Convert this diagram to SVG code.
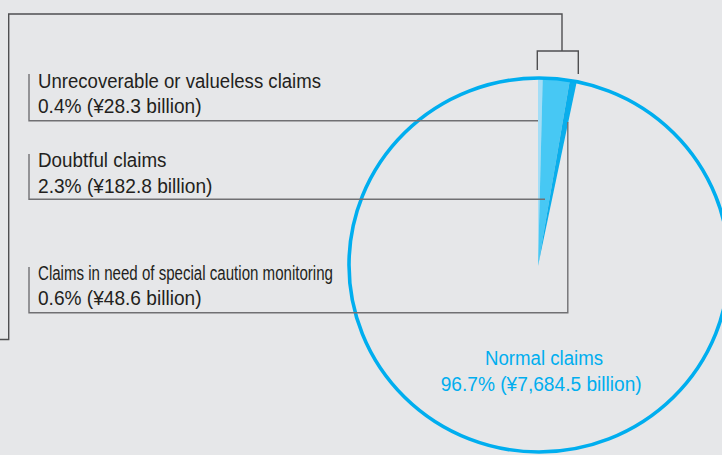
<svg xmlns="http://www.w3.org/2000/svg" width="722" height="455" viewBox="0 0 722 455">
  <style>
    .bg { fill: #e6e7e9; }
    .frame { fill: none; stroke: #4f4f51; stroke-width: 1.4; }
    .leader { fill: none; stroke: #707073; stroke-width: 1.4; }
    .label { font-family: "Liberation Sans", Arial, sans-serif; font-size: 20px; fill: #231f20; }
    .normal { font-family: "Liberation Sans", Arial, sans-serif; font-size: 20px; fill: #00aeef; }
    .ring { fill: none; stroke: #00aeef; stroke-width: 3.6; }
  </style>
  <rect class="bg" x="0" y="0" width="722" height="455"/>

  <!-- pie: normal claims ring with the small problem-claim slices at 12 o'clock -->
  <g id="pie">
    <path id="slice-unrecoverable" d="M538,266 L538,78 A188,188 0 0 1 542.72,78.06 Z" fill="#a3ddf6"/>
    <path id="slice-doubtful" d="M538,266 L542.72,78.06 A188,188 0 0 1 569.74,80.70 Z" fill="#47c8f4"/>
    <path id="slice-special" d="M538,266 L569.74,80.70 A188,188 0 0 1 576.70,82.03 Z" fill="#0aaeeb"/>
    <ellipse class="ring" cx="539" cy="265" rx="190" ry="187"/>
  </g>

  <!-- connectors -->
  <g id="connectors">
    <path class="frame" d="M0,339.5 H8.7 V14 H562 V51"/>
    <path class="frame" d="M537.3,70 V51 H578.3 V74"/>
    <path class="leader" d="M29,74 V120.7 H538"/>
    <path class="leader" d="M29,154 V199.3 H545"/>
    <path class="leader" d="M29,267 V312.7 H567.8 V122"/>
  </g>

  <g id="label-unrecoverable">
    <text class="label" x="38" y="87.5" textLength="283" lengthAdjust="spacingAndGlyphs">Unrecoverable or valueless claims</text>
    <text class="label" x="38" y="113.3" textLength="163.5" lengthAdjust="spacingAndGlyphs">0.4% (¥28.3 billion)</text>
  </g>

  <g id="label-doubtful">
    <text class="label" x="38" y="166.7" textLength="128.5" lengthAdjust="spacingAndGlyphs">Doubtful claims</text>
    <text class="label" x="38" y="192.7" textLength="174.5" lengthAdjust="spacingAndGlyphs">2.3% (¥182.8 billion)</text>
  </g>

  <g id="label-special">
    <text class="label" x="38" y="279.7" textLength="295" lengthAdjust="spacingAndGlyphs">Claims in need of special caution monitoring</text>
    <text class="label" x="38" y="305.3" textLength="163.5" lengthAdjust="spacingAndGlyphs">0.6% (¥48.6 billion)</text>
  </g>

  <g id="label-normal">
    <text class="normal" x="485" y="364.5" textLength="118" lengthAdjust="spacingAndGlyphs">Normal claims</text>
    <text class="normal" x="440.7" y="391" textLength="201" lengthAdjust="spacingAndGlyphs">96.7% (¥7,684.5 billion)</text>
  </g>
</svg>
